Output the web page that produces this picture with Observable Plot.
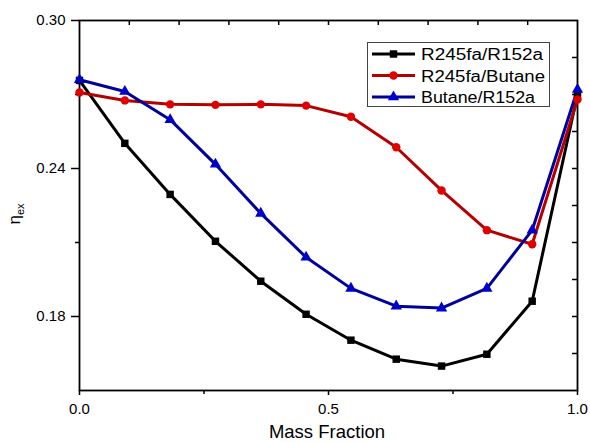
<!DOCTYPE html>
<html>
<head>
<meta charset="utf-8">
<script src="https://cdn.jsdelivr.net/npm/d3@7"></script>
<script src="https://cdn.jsdelivr.net/npm/@observablehq/plot@0.6"></script>
<style>
  html, body { margin: 0; padding: 0; background: #fff; }
  #wrap { position: relative; width: 590px; height: 443px; font-family: "Liberation Sans", Arial, sans-serif; }
  #legend { position: absolute; left: 367px; top: 42px; }
</style>
</head>
<body>
<div id="wrap"></div>
<script>
// ---- data ----
const seriesNames = ["R245fa/R152a", "R245fa/Butane", "Butane/R152a"];
const massFraction = [0, 0.091, 0.182, 0.273, 0.364, 0.455, 0.545, 0.636, 0.727, 0.818, 0.909, 1.0];
const r245faR152a  = [0.2757, 0.2502, 0.2295, 0.2105, 0.1943, 0.1809, 0.1704, 0.1627, 0.1599, 0.1647, 0.1862, 0.2700];
const r245faButane = [0.2708, 0.2676, 0.2660, 0.2658, 0.2660, 0.2655, 0.2610, 0.2486, 0.2311, 0.2150, 0.2093, 0.2680];
const butaneR152a  = [0.2760, 0.2712, 0.2598, 0.2417, 0.2218, 0.2040, 0.1914, 0.1842, 0.1834, 0.1914, 0.2150, 0.2720];

const xMajorTicks = [0, 0.5, 1.0];
const xMinorTicks = [0.25, 0.75];
const xTopTicks = [0.1, 0.2, 0.3, 0.4, 0.5, 0.6, 0.7, 0.8, 0.9];
const yMajorTicks = [0.18, 0.24, 0.30];
const yMinorTicks = [0.21, 0.27];
const yRightTicks = [0.165, 0.18, 0.195, 0.21, 0.225, 0.24, 0.255, 0.27, 0.285];

const lineColors = ["#000000", "#b40000", "#00009c"];
const markerColors = ["#000000", "#e00000", "#0000cc"];
const symbols = ["square", "circle", "triangle"];

const allValues = [r245faR152a, r245faButane, butaneR152a];
const rows = [];
seriesNames.forEach((name, s) => {
  massFraction.forEach((xv, i) => rows.push({ series: name, x: xv, y: allValues[s][i] }));
});

const blank = () => "";
const W = 590, H = 443, mT = 20, mR = 13, mB = 53, mL = 79;
const innerW = W - mL - mR, innerH = H - mT - mB, inTick = 5;

const chart = Plot.plot({
  width: W,
  height: H,
  marginTop: mT,
  marginRight: mR,
  marginBottom: mB,
  marginLeft: mL,
  style: { fontFamily: "Liberation Sans, Arial, sans-serif", fontSize: "15px", color: "#000", background: "#fff", overflow: "visible" },
  x: { domain: [0, 1] },
  y: { domain: [0.15, 0.30] },
  color: { domain: seriesNames, range: lineColors },
  symbol: { domain: seriesNames, range: symbols },
  marks: [
    Plot.axisX({ ticks: xMajorTicks, tickFormat: d3.format(".1f"), tickSize: 5, tickPadding: 8, strokeWidth: 1.5, label: null }),
    Plot.axisX({ ticks: xMinorTicks, tickFormat: blank, tickSize: 4, strokeWidth: 1.5, label: null }),
    Plot.axisY({ ticks: yMajorTicks, tickFormat: d3.format(".2f"), tickSize: 8, tickPadding: 6, strokeWidth: 1.5, label: null }),
    Plot.axisY({ ticks: yMinorTicks, tickFormat: blank, tickSize: 4, strokeWidth: 1.5, label: null }),
    // inward ticks on the top and right edges
    Plot.ruleX(xTopTicks, { x: (d) => d, insetBottom: innerH - inTick, stroke: "#000", strokeWidth: 1.5 }),
    Plot.ruleY(yRightTicks, { y: (d) => d, insetLeft: innerW - inTick, stroke: "#000", strokeWidth: 1.5 }),
    Plot.frame({ stroke: "#000", strokeWidth: 1.8 }),
    Plot.line(rows, { x: "x", y: "y", z: "series", stroke: "series", strokeWidth: 3 }),
    Plot.dot(rows, { x: "x", y: "y", symbol: "series", fill: (d) => markerColors[seriesNames.indexOf(d.series)], r: 4.2 })
  ]
});

const wrap = document.getElementById("wrap");
wrap.appendChild(chart);

// axis titles
const svg = d3.select(chart);
const yl = svg.append("text")
  .attr("transform", "translate(20,214) rotate(-90)")
  .attr("text-anchor", "middle")
  .attr("fill", "#000")
  .style("font-family", "Liberation Sans, Arial, sans-serif");
yl.append("tspan").attr("font-size", 17).text("η");
yl.append("tspan").attr("font-size", 11).attr("dy", 4).text("ex");

svg.append("text")
  .attr("x", 327).attr("y", 438)
  .attr("text-anchor", "middle")
  .attr("fill", "#000")
  .attr("font-size", 18.5)
  .style("font-family", "Liberation Sans, Arial, sans-serif")
  .text("Mass Fraction");

// legend
const legW = 183, legH = 65, rowH = 21.5;
const textLens = [122, 124, 114];
const leg = d3.select(wrap).append("svg")
  .attr("id", "legend")
  .attr("width", legW).attr("height", legH);
leg.append("rect").attr("x", 0.5).attr("y", 0.5).attr("width", legW - 1).attr("height", legH - 1)
  .attr("fill", "#fff").attr("stroke", "#444").attr("stroke-width", 1);
const symGen = d3.symbol();
const d3sym = { square: d3.symbolSquare, circle: d3.symbolCircle, triangle: d3.symbolTriangle };
seriesNames.forEach((name, i) => {
  const cy = 12 + i * rowH;
  leg.append("line").attr("x1", 5).attr("x2", 48).attr("y1", cy).attr("y2", cy)
    .attr("stroke", lineColors[i]).attr("stroke-width", 3.2);
  leg.append("path")
    .attr("transform", `translate(26.5,${cy})`)
    .attr("d", symGen.type(d3sym[symbols[i]]).size(Math.PI * 4.2 * 4.2)())
    .attr("fill", markerColors[i]);
  leg.append("text").attr("x", 54).attr("y", cy + 6)
    .attr("font-size", 16)
    .attr("textLength", textLens[i])
    .attr("lengthAdjust", "spacingAndGlyphs")
    .attr("fill", "#000")
    .style("font-family", "Liberation Sans, Arial, sans-serif")
    .text(name);
});
</script>
</body>
</html>
